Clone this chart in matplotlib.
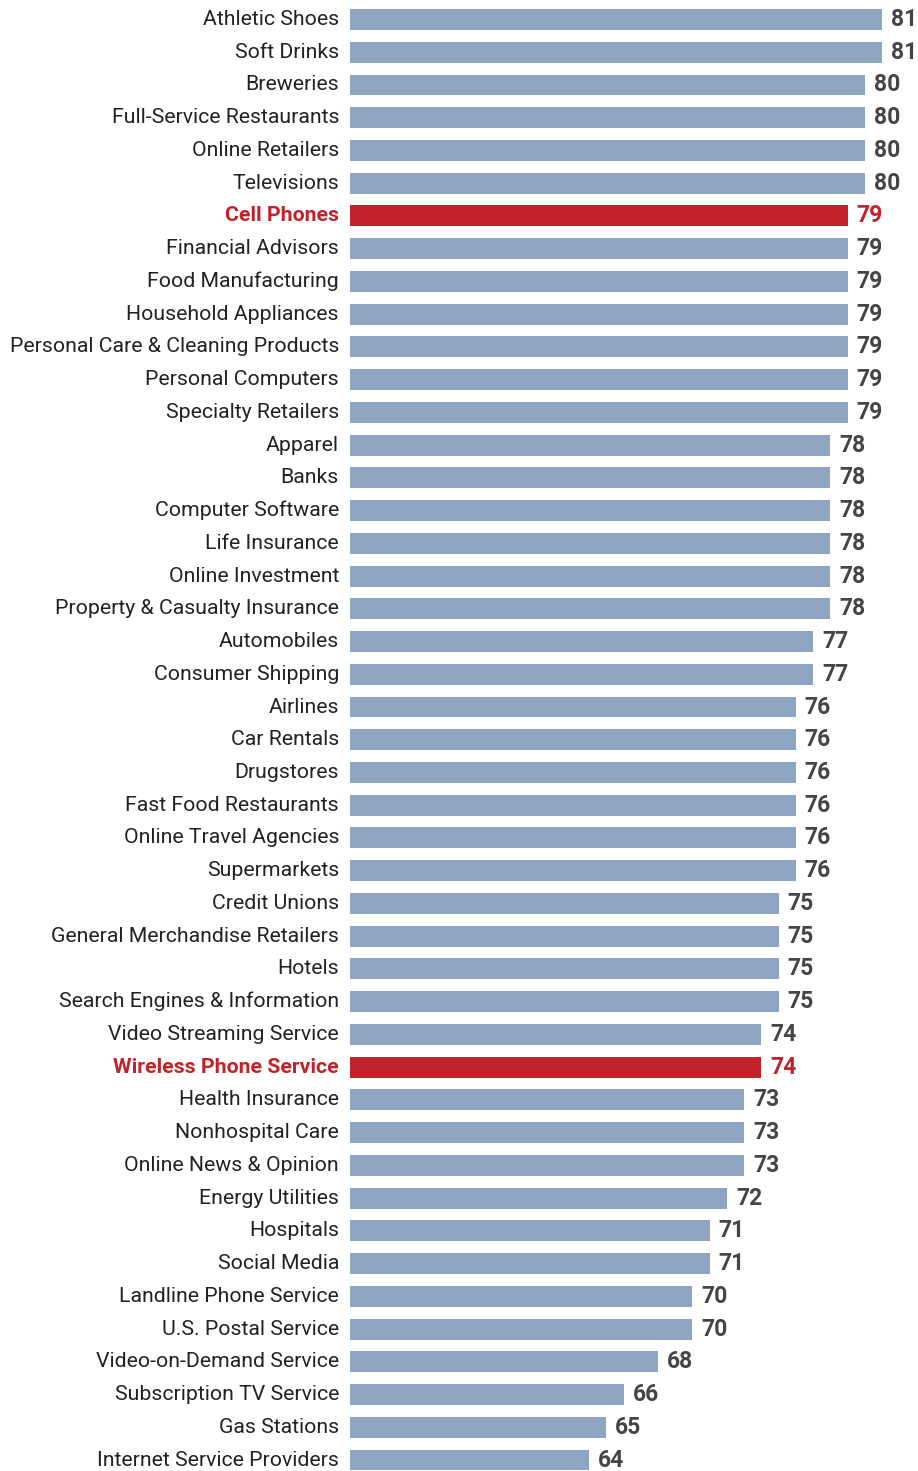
import matplotlib
matplotlib.use("Agg")
from matplotlib import pyplot as plt

# Data (top to bottom)
categories = [
    "Athletic Shoes", "Soft Drinks", "Breweries", "Full-Service Restaurants",
    "Online Retailers", "Televisions", "Cell Phones", "Financial Advisors",
    "Food Manufacturing", "Household Appliances",
    "Personal Care & Cleaning Products", "Personal Computers",
    "Specialty Retailers", "Apparel", "Banks", "Computer Software",
    "Life Insurance", "Online Investment", "Property & Casualty Insurance",
    "Automobiles", "Consumer Shipping", "Airlines", "Car Rentals",
    "Drugstores", "Fast Food Restaurants", "Online Travel Agencies",
    "Supermarkets", "Credit Unions", "General Merchandise Retailers",
    "Hotels", "Search Engines & Information", "Video Streaming Service",
    "Wireless Phone Service", "Health Insurance", "Nonhospital Care",
    "Online News & Opinion", "Energy Utilities", "Hospitals", "Social Media",
    "Landline Phone Service", "U.S. Postal Service", "Video-on-Demand Service",
    "Subscription TV Service", "Gas Stations", "Internet Service Providers",
]
scores = [
    81, 81, 80, 80, 80, 80, 79, 79, 79, 79, 79, 79, 79, 78, 78, 78, 78, 78,
    78, 77, 77, 76, 76, 76, 76, 76, 76, 75, 75, 75, 75, 74, 74, 73, 73, 73,
    72, 71, 71, 70, 70, 68, 66, 65, 64,
]
highlight = ["Cell Phones", "Wireless Phone Service"]

blue = "#8da5c2"
red = "#c1232a"

W, H = 918, 1471
fig = plt.figure(figsize=(W / 100, H / 100), dpi=100)
ax = fig.add_axes([350 / W, 0, 1 - 350 / W, 1])

ypos = list(range(len(categories)))
colors = [red if c in highlight else blue for c in categories]
ax.barh(ypos, scores, left=0, height=0.64, color=colors)

px_per_unit = 17.235
x0 = 50.13
ax.set_xlim(x0, x0 + (W - 350) / px_per_unit)
row = 32.74
ax.set_ylim(44 + (H - 1460) / row, -19.5 / row)
ax.axis("off")

font = "Roboto"
for i, (c, v) in enumerate(zip(categories, scores)):
    hl = c in highlight
    ax.annotate(c, xy=(x0, i), xytext=(-11, 0), textcoords="offset pixels",
                ha="right", va="center", fontsize=15.3, family=font,
                color=red if hl else "#222222",
                fontweight="bold" if hl else "normal")
    ax.annotate(str(v), xy=(v, i), xytext=(9, 0), textcoords="offset pixels",
                ha="left", va="center", fontsize=16.5, family=font,
                color=red if hl else "#454545", fontweight="bold")

fig.savefig("out.png", dpi=100)
